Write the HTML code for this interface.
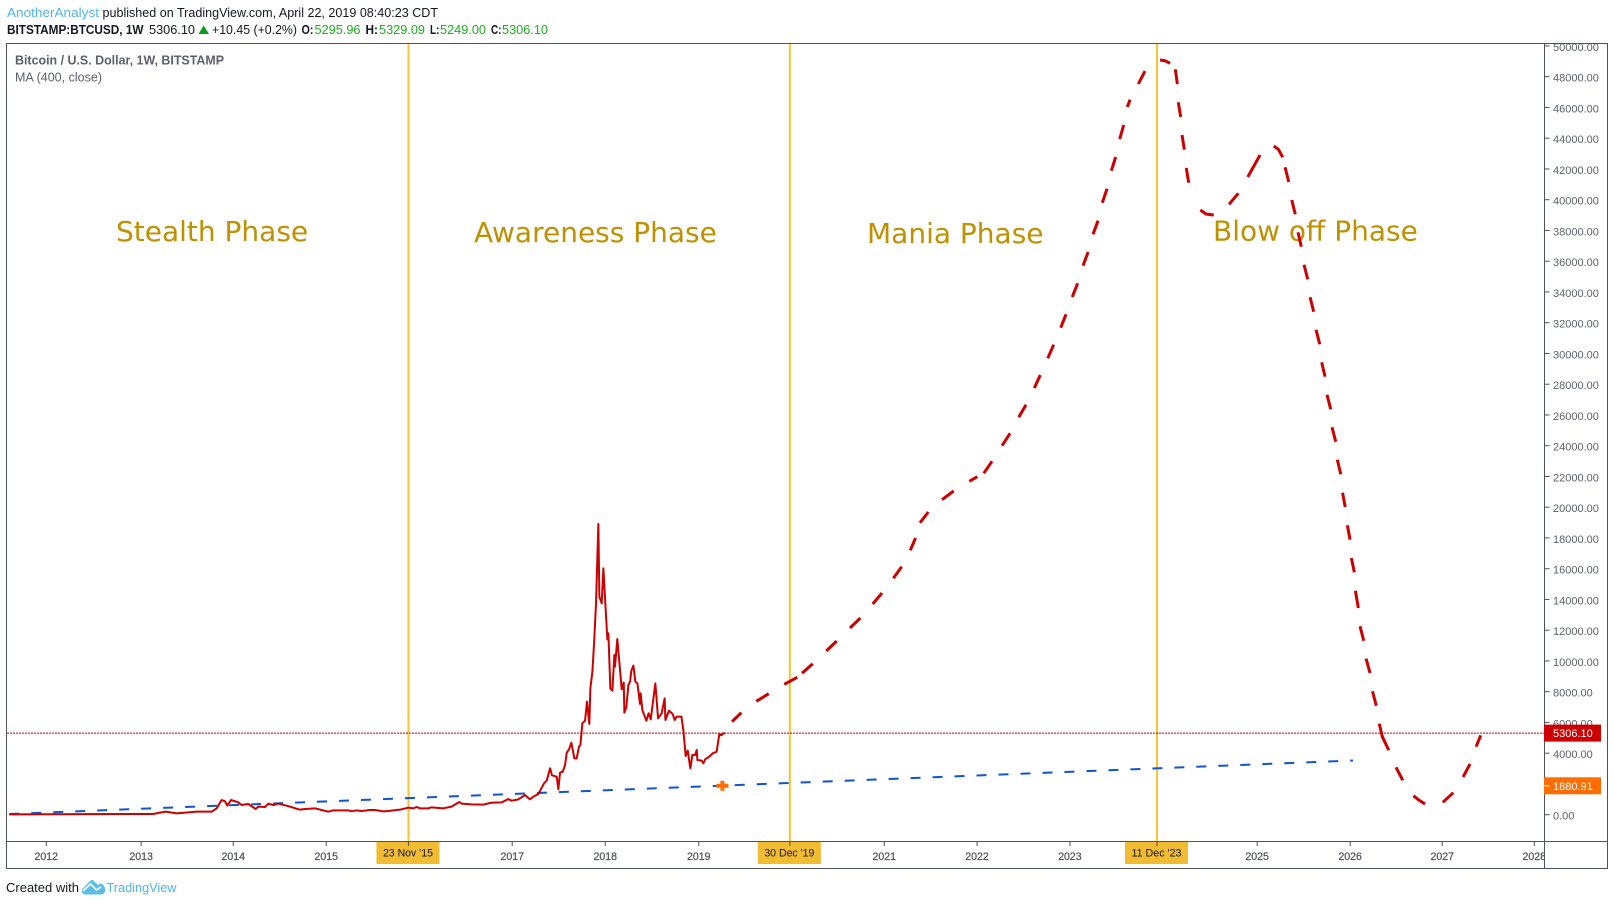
<!DOCTYPE html>
<html lang="en">
<head>
<meta charset="utf-8">
<title>BTCUSD weekly forecast chart</title>
<style>
html,body{margin:0;padding:0;background:#fff;width:1614px;height:905px;overflow:hidden}
svg{display:block}
text{font-family:"Liberation Sans",sans-serif}
</style>
</head>
<body>
<svg id="chart" width="1614" height="905" viewBox="0 0 1614 905" xmlns="http://www.w3.org/2000/svg">
  <defs>
    <clipPath id="pane-clip"><rect x="7" y="44" width="1537.5" height="797"/></clipPath>
    <clipPath id="time-clip"><rect x="7" y="842" width="1537" height="26"/></clipPath>
  </defs>
  <rect x="0" y="0" width="1614" height="905" fill="#ffffff"/>

  <g font-size="13" fill="#131722">
    <text x="7" y="17" fill="#4fb5e8" textLength="92" lengthAdjust="spacingAndGlyphs">AnotherAnalyst</text>
    <text x="102.5" y="17" textLength="335.5" lengthAdjust="spacingAndGlyphs">published on TradingView.com, April 22, 2019 08:40:23 CDT</text>
    <text x="7" y="34" font-weight="700" textLength="136.5" lengthAdjust="spacingAndGlyphs">BITSTAMP:BTCUSD, 1W</text>
    <text x="149" y="34" textLength="46" lengthAdjust="spacingAndGlyphs">5306.10</text>
    <polygon points="198.5,34 209,34 203.7,25.5" fill="#0a9a1e"/>
    <text x="212" y="34" textLength="85" lengthAdjust="spacingAndGlyphs">+10.45 (+0.2%)</text>
    <text x="301.5" y="34" font-weight="700" textLength="12" lengthAdjust="spacingAndGlyphs">O:</text>
    <text x="314.5" y="34" fill="#1fae1f" textLength="46" lengthAdjust="spacingAndGlyphs">5295.96</text>
    <text x="365.5" y="34" font-weight="700" textLength="12.5" lengthAdjust="spacingAndGlyphs">H:</text>
    <text x="379" y="34" fill="#1fae1f" textLength="46" lengthAdjust="spacingAndGlyphs">5329.09</text>
    <text x="430" y="34" font-weight="700" textLength="9.5" lengthAdjust="spacingAndGlyphs">L:</text>
    <text x="440" y="34" fill="#1fae1f" textLength="46" lengthAdjust="spacingAndGlyphs">5249.00</text>
    <text x="491" y="34" font-weight="700" textLength="10.5" lengthAdjust="spacingAndGlyphs">C:</text>
    <text x="502" y="34" fill="#1fae1f" textLength="46" lengthAdjust="spacingAndGlyphs">5306.10</text>
  </g>

  <g id="pane-under" clip-path="url(#pane-clip)"></g>

  <g font-size="12.5" fill="#5d606b">
    <text x="15" y="64.5" font-weight="700" textLength="209" lengthAdjust="spacingAndGlyphs">Bitcoin / U.S. Dollar, 1W, BITSTAMP</text>
    <text x="15" y="81.5" textLength="87" lengthAdjust="spacingAndGlyphs">MA (400, close)</text>
  </g>

  <g font-size="28" fill="#bf9000" style="font-family:'DejaVu Sans',sans-serif">
    <text x="116" y="241" style="font-family:'DejaVu Sans',sans-serif">Stealth Phase</text>
    <text x="474" y="242" style="font-family:'DejaVu Sans',sans-serif">Awareness Phase</text>
    <text x="867" y="243" style="font-family:'DejaVu Sans',sans-serif">Mania Phase</text>
    <text x="1213" y="240.5" style="font-family:'DejaVu Sans',sans-serif">Blow off Phase</text>
  </g>

  <g id="pane-over" clip-path="url(#pane-clip)"></g>

  <g id="price-axis"></g>
  <g id="time-axis"></g>

  <g stroke="#4c525e" stroke-width="1" fill="none">
    <rect x="6.5" y="43.5" width="1601" height="825"/>
    <line x1="1544.5" y1="43.5" x2="1544.5" y2="868.5"/>
    <line x1="6.5" y1="841.5" x2="1607.5" y2="841.5"/>
  </g>

  <g id="axis-flags"></g>

  <g>
    <text x="6" y="892" font-size="13" fill="#131722" textLength="73" lengthAdjust="spacingAndGlyphs">Created with</text>
    <g>
      <path d="M85.5 894.5 Q81 894 82 889.5 L90.5 880.5 Q92 879.5 93.5 880.5 L98 885 L100 883.5 Q102 883 103 885 Q106 888 105 891.5 Q104 894.5 100.5 894.5 Z" fill="#59bfe9"/>
      <path d="M83 891 L90.5 884 L96.5 890 L101 887" fill="none" stroke="#ffffff" stroke-width="1.6"/>
      <text x="106.5" y="892" font-size="13" fill="#4fb5e8" textLength="70" lengthAdjust="spacingAndGlyphs">TradingView</text>
    </g>
  </g>
</svg>
<script>
const priceYears = [2011.602,2013.151,2013.222,2013.283,2013.402,2013.617,2013.778,2013.832,2013.885,2013.921,2013.946,2013.986,2014.064,2014.100,2014.172,2014.251,2014.279,2014.351,2014.387,2014.441,2014.495,2014.584,2014.656,2014.727,2014.781,2014.889,2014.960,2015.032,2015.086,2015.247,2015.283,2015.337,2015.391,2015.480,2015.534,2015.624,2015.677,2015.803,2015.892,2015.946,2015.982,2016.018,2016.107,2016.143,2016.269,2016.358,2016.441,2016.466,2016.573,2016.699,2016.771,2016.800,2016.897,2016.932,2016.968,2017.004,2017.076,2017.148,2017.201,2017.237,2017.291,2017.352,2017.381,2017.417,2017.438,2017.488,2017.506,2017.524,2017.553,2017.578,2017.596,2017.621,2017.646,2017.678,2017.703,2017.728,2017.743,2017.764,2017.793,2017.814,2017.839,2017.850,2017.872,2017.890,2017.911,2017.936,2017.947,2017.972,2017.990,2018.015,2018.033,2018.044,2018.065,2018.087,2018.108,2018.115,2018.140,2018.169,2018.187,2018.209,2018.216,2018.237,2018.259,2018.277,2018.291,2018.313,2018.334,2018.356,2018.384,2018.391,2018.409,2018.452,2018.477,2018.499,2018.549,2018.578,2018.617,2018.649,2018.657,2018.696,2018.735,2018.757,2018.778,2018.829,2018.850,2018.875,2018.897,2018.925,2018.947,2018.976,2018.994,2019.001,2019.047,2019.065,2019.087,2019.119,2019.166,2019.208,2019.237,2019.259,2019.280,2019.302];
const priceValues = [24,46,133,198,89,198,198,414,956,870,588,956,805,631,696,371,523,501,718,631,718,588,458,328,371,414,306,198,284,284,219,284,241,306,306,219,241,328,458,414,501,414,414,480,414,523,826,718,675,653,761,782,804,912,1021,912,999,1281,999,1173,1346,2040,2213,3016,2560,2474,1650,2734,2799,3232,4034,4251,4685,3666,3666,4425,4533,5942,6116,7352,5899,8219,9303,11146,13747,18907,14181,13747,16024,13314,11406,11796,8219,8067,10387,9628,11427,9411,8154,8587,6636,6983,8436,8652,9368,9693,8652,8544,7200,7894,6810,6116,6593,6202,8544,6268,6593,7568,6159,6766,6549,6159,6376,6376,5509,3818,4165,3016,3883,3883,4208,3558,3514,3341,3623,3731,3991,4100,5249,5162,5292,5292];

const forecastYears = [2019.373,2019.473,null,2019.635,2019.768,null,2019.935,2020.075,null,2020.126,2020.241,null,2020.387,2020.499,null,2020.642,2020.753,null,2020.886,2020.986,null,2021.108,2021.198,null,2021.290,2021.347,null,2021.395,2021.484,null,2021.631,2021.757,null,2021.925,2022.011,null,2022.080,2022.169,null,2022.277,2022.363,null,2022.456,2022.535,null,2022.624,2022.688,null,2022.768,2022.832,null,2022.908,2022.965,null,2023.032,2023.090,null,2023.148,2023.202,null,2023.255,2023.309,null,2023.355,2023.406,null,2023.452,2023.499,null,2023.542,2023.585,null,2023.624,2023.653,null,2023.742,2023.814,null,2023.976,2024.029,2024.083,null,2024.140,2024.162,null,2024.172,2024.198,null,2024.212,2024.237,null,2024.258,2024.284,null,2024.409,2024.470,2024.553,null,2024.718,2024.817,null,2024.919,2025.051,null,2025.198,2025.248,2025.295,null,2025.320,2025.360,null,2025.392,2025.430,null,2025.459,2025.495,null,2025.524,2025.564,null,2025.589,2025.628,null,2025.653,2025.693,null,2025.714,2025.750,null,2025.771,2025.811,null,2025.825,2025.865,null,2025.882,2025.919,null,2025.938,2025.967,null,2025.990,2026.019,null,2026.033,2026.065,null,2026.076,2026.108,null,2026.126,2026.166,null,2026.191,2026.234,null,2026.260,2026.301,null,2026.333,2026.366,2026.435,null,2026.513,2026.586,null,2026.700,2026.758,2026.825,null,2027.016,2027.129,null,2027.234,2027.309,null,2027.374,2027.424];
const forecastPrices = [6049,6634,null,7376,7870,null,8481,8936,null,9197,9821,null,10647,11298,null,12143,12793,null,13704,14419,null,15375,16130,null,17197,17997,null,18992,19688,null,20488,21053,null,21684,21984,null,22205,22985,null,24000,24806,null,25847,26666,null,27752,28598,null,29684,30569,null,31674,32546,null,33671,34562,null,35707,36598,null,37749,38634,null,39804,40715,null,41886,42777,null,43947,44858,null,46029,46504,null,47525,48370,null,49086,49040,48871,null,48481,47525,null,46334,45378,null,44208,43252,null,42061,41105,null,39330,39070,39004,null,39700,40416,null,41476,42907,null,43492,43278,42757,null,42107,41151,null,39980,39050,null,37879,36943,null,35772,34822,null,33652,32715,null,31544,30595,null,29424,28488,null,27317,26367,null,25197,24260,null,23089,22140,null,20943,20013,null,18823,17886,null,16696,15766,null,14569,13444,null,12254,11317,null,10146,9216,null,8026,7089,null,5919,5073,4189,null,3083,2237,null,1236,956,696,null,806,1431,null,2452,3298,null,4423,5164];

const trendYears = [2011.602,2026.050];
const trendPrices = [46,3525];

const maYear = 2019.270;
const maValue = 1880.91;
const lastPrice = 5306.10;

const phaseDates = [2015.894,2019.995,2023.943];
const phaseDateLabels = ["23 Nov '15","30 Dec '19","11 Dec '23"];

const yearTickTimes = [2012.00,2013.02,2014.01,2015.01,2017.01,2018.01,2019.016,2021.01,2022.008,2023.007,2025.02,2026.02,2027.01,2028.00];
const yearTickLabels = ["2012","2013","2014","2015","2017","2018","2019","2021","2022","2023","2025","2026","2027","2028"];

const priceTicks = [0,4000,6000,8000,10000,12000,14000,16000,18000,20000,22000,24000,26000,28000,30000,32000,34000,36000,38000,40000,42000,44000,46000,48000,50000];

const NS = "http://www.w3.org/2000/svg";
const X_ZERO_YEAR = 2012, X_ZERO_PX = 46.3, PX_PER_YEAR = 93;
const Y_ZERO_PX = 814.7, PX_PER_USD = 0.015375;

function xAt(year){ return X_ZERO_PX + (year - X_ZERO_YEAR) * PX_PER_YEAR; }
function yAt(price){ return Y_ZERO_PX - price * PX_PER_USD; }

function make(parent, tag, attrs, content){
  const el = document.createElementNS(NS, tag);
  for (const k in attrs) el.setAttribute(k, attrs[k]);
  if (content !== undefined) el.textContent = content;
  parent.appendChild(el);
  return el;
}

function linePath(xs, ys){
  let d = "", pen = false;
  for (let i = 0; i < xs.length; i++){
    if (xs[i] === null || ys[i] === null){ pen = false; continue; }
    d += (pen ? "L" : "M") + xAt(xs[i]).toFixed(2) + " " + yAt(ys[i]).toFixed(2);
    pen = true;
  }
  return d;
}

const under = document.getElementById("pane-under");
const over = document.getElementById("pane-over");
const priceAxis = document.getElementById("price-axis");
const timeAxis = document.getElementById("time-axis");
const flags = document.getElementById("axis-flags");

phaseDates.forEach(function(t){
  const vline = make(under, "line", {x1:xAt(t), x2:xAt(t), y1:44, y2:841, stroke:"#f9c335", "stroke-width":2});
  
  
});

const lastLine = make(over, "line", {x1:7, x2:1544, y1:yAt(lastPrice), y2:yAt(lastPrice), stroke:"#cc0000", "stroke-width":1, "stroke-dasharray":"2 1"});



const trend = make(over, "path", {d:linePath(trendYears, trendPrices), fill:"none", stroke:"#1155cc", "stroke-width":2, "stroke-dasharray":"10 12"});



const price = make(over, "path", {d:linePath(priceYears, priceValues), fill:"none", stroke:"#cc0000", "stroke-width":2, "stroke-linejoin":"round"});



const forecast = make(over, "path", {d:linePath(forecastYears, forecastPrices), fill:"none", stroke:"#cc0000", "stroke-width":3});



const mx = xAt(maYear), my = yAt(maValue);
const maH = make(over, "line", {x1:mx-6, x2:mx+6, y1:my, y2:my, stroke:"#ff6d00", "stroke-width":4});


const maV = make(over, "line", {x1:mx, x2:mx, y1:my-5, y2:my+5, stroke:"#ff6d00", "stroke-width":4});



priceTicks.forEach(function(p){
  const y = yAt(p);
  const tick = make(priceAxis, "line", {x1:1544.5, x2:1549.5, y1:y, y2:y, stroke:"#4c525e", "stroke-width":1});
  
  
  const label = make(priceAxis, "text", {x:1553, y:y+5, "font-size":11, fill:"#5d606b"}, p.toFixed(2));
  
  
});

const timeLabelGroup = make(timeAxis, "g", {"clip-path":"url(#time-clip)"});


yearTickTimes.forEach(function(t, i){
  const x = xAt(t);
  const tick = make(timeAxis, "line", {x1:x, x2:x, y1:841.5, y2:846, stroke:"#4c525e", "stroke-width":1});
  
  
  const label = make(timeLabelGroup, "text", {x:x, y:860, "font-size":11, fill:"#50535e", stroke:"#50535e", "stroke-width":0.25, "text-anchor":"middle", textLength:23.5, lengthAdjust:"spacingAndGlyphs"}, yearTickLabels[i]);
  
  
});

phaseDates.forEach(function(t, i){
  const x = xAt(t);
  const box = make(flags, "rect", {x:x-32, y:842, width:63, height:22, fill:"#f1bc32"});
  
  
  const tick = make(flags, "line", {x1:x, x2:x, y1:842, y2:846, stroke:"#4c525e", "stroke-width":1});
  
  
  const text = make(flags, "text", {x:x-0.5, y:856.5, "font-size":11, fill:"#131722", "text-anchor":"middle", textLength:50, lengthAdjust:"spacingAndGlyphs"}, phaseDateLabels[i]);
  
  
});

const lastBox = make(flags, "rect", {x:1544, y:yAt(lastPrice)-8.5, width:57, height:17, fill:"#cc0000"});


const lastText = make(flags, "text", {x:1553, y:yAt(lastPrice)+4, "font-size":11, fill:"#ffffff"}, lastPrice.toFixed(2));



const maBox = make(flags, "rect", {x:1544, y:yAt(maValue)-8.5, width:57, height:17, fill:"#ff6d00"});


const maTick = make(flags, "line", {x1:1544.5, x2:1549.5, y1:yAt(maValue), y2:yAt(maValue), stroke:"#ffffff", "stroke-width":1});


const maText = make(flags, "text", {x:1553, y:yAt(maValue)+4, "font-size":11, fill:"#ffffff"}, maValue.toFixed(2));


</script>
</body>
</html>
